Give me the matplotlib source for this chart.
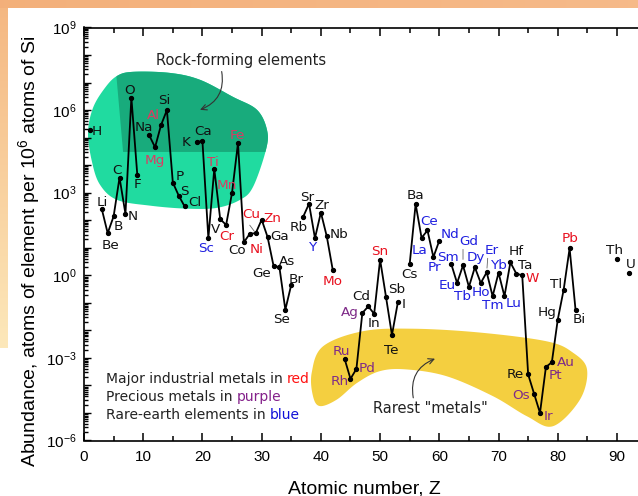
import numpy as np
import matplotlib
matplotlib.use("Agg")
import matplotlib.pyplot as plt
from matplotlib.patches import Polygon
from matplotlib.ticker import MultipleLocator, FixedLocator, LogLocator, FuncFormatter, NullFormatter

plt.rcParams["font.family"] = ["Liberation Sans", "DejaVu Sans"]

# abundance of elements in Earth's upper crust, log10(atoms per 1e6 atoms of Si)
symbols = ["H", "Li", "Be", "B", "C", "N", "O", "F",
           "Na", "Mg", "Al", "Si", "P", "S", "Cl",
           "K", "Ca", "Sc", "Ti", "V", "Cr", "Mn", "Fe", "Co", "Ni", "Cu", "Zn",
           "Ga", "Ge", "As", "Se", "Br",
           "Rb", "Sr", "Y", "Zr", "Nb", "Mo",
           "Ru", "Rh", "Pd", "Ag", "Cd", "In", "Sn", "Sb", "Te", "I",
           "Cs", "Ba", "La", "Ce", "Pr", "Nd",
           "Sm", "Eu", "Gd", "Tb", "Dy", "Ho", "Er", "Tm", "Yb", "Lu",
           "Hf", "Ta", "W", "Re", "Os", "Ir", "Pt", "Au", "Hg", "Tl", "Pb", "Bi",
           "Th", "U"]
atomic_number = [1, 3, 4, 5, 6, 7, 8, 9,
                 11, 12, 13, 14, 15, 16, 17,
                 19, 20, 21, 22, 23, 24, 25, 26, 27, 28, 29, 30,
                 31, 32, 33, 34, 35,
                 37, 38, 39, 40, 41, 42,
                 44, 45, 46, 47, 48, 49, 50, 51, 52, 53,
                 55, 56, 57, 58, 59, 60,
                 62, 63, 64, 65, 66, 67, 68, 69, 70, 71,
                 72, 73, 74, 75, 76, 77, 78, 79, 80, 81, 82, 83,
                 90, 92]
log_abundance = [5.28, 2.41, 1.53, 2.14, 3.55, 2.23, 6.45, 3.65,
                 5.09, 4.65, 5.45, 6.0, 3.37, 2.89, 2.5,
                 4.85, 4.87, 1.35, 3.86, 2.04, 1.83, 3.0, 4.8, 1.2, 1.51, 1.53, 2.02,
                 1.39, 0.35, 0.29, -1.25, -0.34,
                 2.12, 2.6, 1.35, 2.28, 1.41, 0.2,
                 -3.03, -3.76, -3.4, -1.37, -1.13, -1.4, 0.57, -0.79, -2.17, -0.98,
                 0.42, 2.59, 1.36, 1.63, 0.66, 1.26,
                 0.42, -0.28, 0.36, -0.42, 0.29, -0.28, 0.11, -0.76, 0.09, -0.76,
                 0.47, 0.06, 0.0, -3.6, -4.3, -5.0, -3.33, -3.16, -1.61, -0.52, 0.98, -1.25,
                 0.6, 0.09]

red_elements = ["Cr", "Ni", "Cu", "Zn", "Mo", "Sn", "W", "Pb"]
red_in_blob = ["Mg", "Al", "Ti", "Mn", "Fe"]
purple_elements = ["Ru", "Rh", "Pd", "Ag", "Os", "Ir", "Pt", "Au"]
blue_elements = ["Sc", "Y", "La", "Ce", "Pr", "Nd", "Sm", "Eu", "Gd", "Tb", "Dy",
                 "Ho", "Er", "Tm", "Yb", "Lu"]

legend_text = ["Major industrial metals in", "Precious metals in", "Rare-earth elements in"]
legend_word = ["red", "purple", "blue"]

# label placement, pixels from the point (x right, y up)
label_offset = {
    "H": (7, 0), "Li": (0, 8), "Be": (3, -11), "B": (5, -9), "C": (-3, 9), "N": (7, -1),
    "O": (-2, 9), "F": (0, -8), "Na": (-5, 9), "Mg": (0, -12), "Al": (-8, 11), "Si": (-3, 11),
    "P": (7, 8), "S": (6, 6), "Cl": (10, 5), "K": (-10, 1), "Ca": (1, 11), "Sc": (-2, -9),
    "Ti": (-1, 8), "V": (-5, -9), "Cr": (1, -10), "Mn": (-5, 9), "Fe": (-1, 9), "Co": (-7, -7),
    "Ni": (7, -14), "Cu": (-4, 20), "Zn": (11, 3), "Ga": (12, 2), "Ge": (-12, -6), "As": (8, 7),
    "Se": (-4, -8), "Br": (5, 7), "Rb": (-4, -9), "Sr": (-2, 8), "Y": (-2, -8), "Zr": (1, 9),
    "Nb": (12, 3), "Mo": (0, -10), "Ru": (-3, 9), "Rh": (-11, -1), "Pd": (11, 2), "Ag": (-13, 2),
    "Cd": (-7, 11), "In": (0, -8), "Sn": (0, 10), "Sb": (11, 9), "Te": (-1, -14), "I": (6, -1),
    "Cs": (0, -9), "Ba": (0, 10), "La": (-2, -11), "Ce": (2, 10), "Pr": (1, -9), "Nd": (11, 8),
    "Sm": (-3, 8), "Eu": (-10, -1), "Gd": (6, 25), "Tb": (-6, -8), "Dy": (1, 11), "Ho": (0, -8),
    "Er": (5, 23), "Tm": (0, -8), "Yb": (1, 9), "Lu": (9, -6), "Hf": (6, 12), "Ta": (9, 10),
    "W": (10, -2), "Re": (-13, 1), "Os": (-13, 0), "Ir": (8, -2), "Pt": (10, -7), "Au": (14, 1),
    "Hg": (-11, 9), "Tl": (-8, 7), "Pb": (0, 11), "Bi": (4, -8), "Th": (-2, 10), "U": (2, 10),
}
# thin leader lines: start offset (px) and gap left at the point (pt)
leaders = {"Cu": ((-6, 8), 1.5), "Gd": ((0, 16), 4.3), "Er": ((1, 14), 3.0)}

# outlines of the two highlighted regions, in (Z, log10 abundance)
rock_outline = [(8.27, 7.39), (14.52, 7.35), (19.59, 7.10), (25.16, 6.48), (29.21, 6.01),
                (30.90, 5.28), (30.73, 4.56), (28.54, 3.21), (26.34, 2.74), (22.46, 2.45),
                (17.39, 2.42), (11.14, 2.53), (5.57, 2.74), (2.70, 3.29), (1.35, 4.12),
                (0.68, 5.17), (1.52, 6.08), (3.55, 6.81), (5.57, 7.24)]
rock_shade = [(5.2, 7.9), (6.6, 4.48), (40.0, 4.48), (40.0, 7.9)]
rare_outline = [(38.45, -3.54), (40.36, -2.58), (47.11, -2.03), (55.56, -1.94), (66.87, -2.08),
                (78.18, -2.40), (82.57, -2.81), (84.94, -3.42), (83.76, -4.51), (79.2, -5.48),
                (74.8, -5.12), (69.06, -4.39), (61.3, -3.67), (54.54, -3.42), (49.98, -3.48),
                (46.1, -3.91), (42.72, -4.51), (39.85, -4.75), (38.67, -4.39)]


def smooth_closed(pts, n=24):
    p = np.asarray(pts, float)
    t = np.linspace(0, 1, n, endpoint=False)[:, None]
    out = []
    for i in range(len(p)):
        p0, p1, p2, p3 = p[i - 1], p[i], p[(i + 1) % len(p)], p[(i + 2) % len(p)]
        out.append(0.5 * (2 * p1 + (p2 - p0) * t + (2 * p0 - 5 * p1 + 4 * p2 - p3) * t ** 2
                          + (3 * p1 - p0 - 3 * p2 + p3) * t ** 3))
    s = np.vstack(out)
    return np.column_stack([s[:, 0], 10.0 ** s[:, 1]])


def label_color(sym):
    if sym in red_in_blob:
        return "#dc3a62"
    if sym in red_elements:
        return "#e8101e"
    if sym in purple_elements:
        return "#7e2a88"
    if sym in blue_elements:
        return "#1f1fe0"
    return "#111111"


W, H = 638, 496
fig = plt.figure(figsize=(W / 100, H / 100), dpi=100)

# peach page frame around the chart
frame = np.ones((H, W, 3))
frame[:8, :, :] = np.linspace([0.955, 0.69, 0.48], [0.965, 0.73, 0.54], W)[None, :, :]
fade = np.linspace(0, 1, 340)[:, None]
frame[8:348, :8, :] = ((1 - fade) * np.array([0.96, 0.72, 0.51]) + fade * np.array([0.99, 0.91, 0.73]))[:, None, :]
bg = fig.add_axes([0, 0, 1, 1], zorder=-5)
bg.imshow(frame, extent=(0, 1, 0, 1), aspect="auto", interpolation="nearest")
bg.set_axis_off()

ax = fig.add_axes([84 / W, 1 - 440.5 / H, (650 - 84) / W, 413 / H])
ax.set_facecolor("none")
ax.set_yscale("log")
ax.set_xlim(0, (650 - 84) / 5.922)
ax.set_ylim(1e-6, 1e9)

rock = Polygon(smooth_closed(rock_outline), closed=True, facecolor="#20dba0", edgecolor="none", zorder=1)
ax.add_patch(rock)
shade = Polygon([(x, 10 ** y) for x, y in rock_shade], closed=True, facecolor="#18ab7c",
                edgecolor="none", zorder=1.1)
ax.add_patch(shade)
shade.set_clip_path(rock)
ax.add_patch(Polygon(smooth_closed(rare_outline), closed=True, facecolor="#f4cf40",
                     edgecolor="none", zorder=1))

Z = np.array(atomic_number)
A = 10.0 ** np.array(log_abundance)
breaks = np.where(np.diff(Z) > 1)[0] + 1
for zz, aa in zip(np.split(Z, breaks), np.split(A, breaks)):
    ax.plot(zz, aa, color="black", lw=1.3, marker="o", ms=2.8, zorder=3)

for sym, z, a in zip(symbols, Z, A):
    ax.annotate(sym, (z, a), xytext=label_offset[sym], textcoords="offset pixels",
                ha="center", va="center_baseline", fontsize=9.7, family="DejaVu Sans",
                color=label_color(sym), zorder=4)
    if sym in leaders:
        start, gap = leaders[sym]
        ax.annotate("", (z, a), xytext=start, textcoords="offset pixels",
                    arrowprops=dict(arrowstyle="-", color="#666666", lw=0.6, shrinkA=0, shrinkB=gap))

# region captions with curved arrows
ax.text(26.5, 10 ** 7.64, "Rock-forming elements", ha="center", va="baseline",
        fontsize=10.5, family="DejaVu Sans", color="#222222", zorder=5)
ax.annotate("", xy=(19.59, 10 ** 6.01), xytext=(23.25, 10 ** 7.40),
            arrowprops=dict(arrowstyle="->", color="#333333", lw=0.8, shrinkA=0, shrinkB=0,
                            connectionstyle="arc3,rad=-0.4"), zorder=5)
ax.text(58.48, 10 ** -5.0, 'Rarest "metals"', ha="center", va="baseline",
        fontsize=10.5, family="DejaVu Sans", color="#222222", zorder=5)
ax.annotate("", xy=(59.27, 10 ** -3.03), xytext=(55.6, 10 ** -4.45),
            arrowprops=dict(arrowstyle="->", color="#333333", lw=0.8, shrinkA=0, shrinkB=0,
                            connectionstyle="arc3,rad=-0.4"), zorder=5)

word_colors = {"red": "#ff1010", "purple": "#84208a", "blue": "#1010d8"}
for i, (txt, word) in enumerate(zip(legend_text, legend_word)):
    t = fig.text(106 / W, 1 - (383 + 18 * i) / H, txt, ha="left", va="baseline",
                 fontsize=10, family="DejaVu Sans", color="#222222")
    ax.annotate(word, xy=(1, 0), xycoords=t, xytext=(4, 0), textcoords="offset pixels",
                ha="left", va="bottom", fontsize=10, family="DejaVu Sans",
                color=word_colors[word], annotation_clip=False)

# axes styling
for side in ["left", "bottom", "top", "right"]:
    ax.spines[side].set_linewidth(1.2)
ax.xaxis.set_major_locator(MultipleLocator(10))
ax.xaxis.set_minor_locator(MultipleLocator(5))
ax.tick_params(axis="x", which="both", direction="in", top=True, bottom=True, width=1.1,
               labelsize=11, pad=7)
ax.tick_params(axis="x", which="major", length=5.8)
ax.tick_params(axis="x", which="minor", length=3.6)

ax.yaxis.set_major_locator(FixedLocator(10.0 ** np.arange(-6, 10)))
ax.yaxis.set_minor_locator(LogLocator(base=10, subs=np.arange(2, 10), numticks=100))
ax.yaxis.set_minor_formatter(NullFormatter())


def decade_label(v, pos):
    e = int(round(np.log10(v)))
    return r"$\mathdefault{10^{%d}}$" % e if e % 3 == 0 else ""


ax.yaxis.set_major_formatter(FuncFormatter(decade_label))
ax.tick_params(axis="y", which="both", direction="in", left=True, right=False, width=1.0,
               labelsize=11, pad=5.5)
ax.tick_params(axis="y", which="major", length=5)
ax.tick_params(axis="y", which="minor", length=3)

fig.text(364 / W, 1 - 494 / H, "Atomic number, Z", ha="center", va="baseline", fontsize=14)
fig.text(35 / W, 1 - 251 / H, r"Abundance, atoms of element per $\mathdefault{10^{6}}$ atoms of Si",
         ha="center", va="baseline", rotation=90, rotation_mode="anchor", fontsize=14)

fig.savefig("out.png", dpi=100)
